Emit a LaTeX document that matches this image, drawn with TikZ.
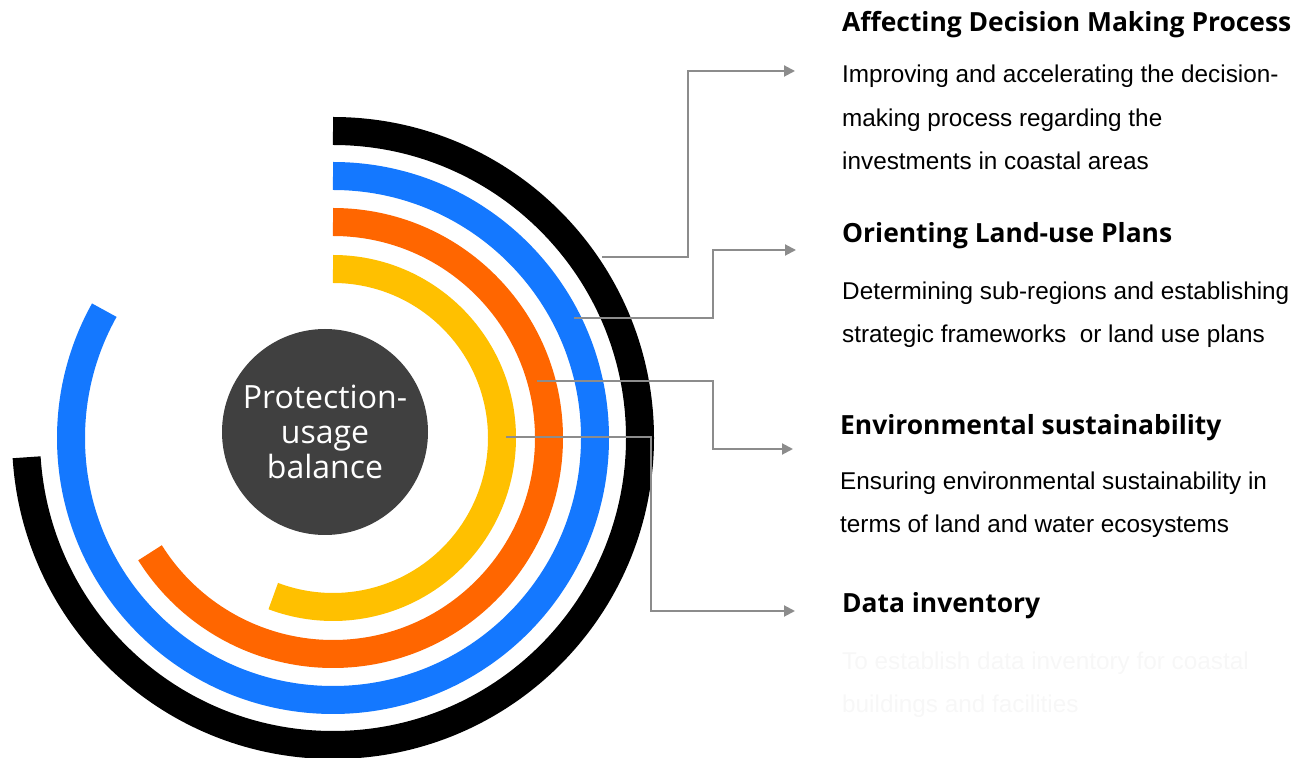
\documentclass[tikz,border=0pt]{standalone}
\usepackage{fontspec}
\setmainfont{Liberation Sans}
\newfontfamily\hubfont{Open Sans}
\usetikzlibrary{arrows.meta}

\definecolor{ringyellow}{HTML}{FFC000}
\definecolor{ringorange}{HTML}{FF6600}
\definecolor{ringblue}{HTML}{1478FF}
\definecolor{ringblack}{HTML}{000000}
\definecolor{hubgray}{HTML}{404040}
\definecolor{linkgray}{HTML}{8C8C8C}
\definecolor{fadedtext}{HTML}{F7F7F7}

\tikzset{
  ring/.style={line width=28pt},
  hub/.style={circle, fill=hubgray, minimum size=206pt, inner sep=0pt, text=white,
    align=center, font=\hubfont\fontsize{32}{35}\selectfont},
  head/.style={anchor=base west, inner sep=0pt, font=\hubfont\bfseries\fontsize{26.4}{32}\selectfont},
  % multi-line: base is the last line
  body/.style={anchor=base west, inner sep=0pt, align=left, font=\fontsize{24.3}{43.5}\selectfont},
  link/.style={draw=linkgray, line width=2pt, -{Triangle[length=11pt,width=11pt]}},
}

\begin{document}
\begin{tikzpicture}[x=1pt,y=1pt]

    \useasboundingbox (0,0) rectangle (1310,758);

    \coordinate (c) at (333,320);

    % rings, all start at the top and run clockwise
    \foreach \r/\e/\col in {169/-110.7/ringyellow, 216/-147.9/ringorange,
                            262/-209.2/ringblue, 307/-176.4/ringblack}
      \draw[ring, \col] ([shift={(90:\r pt)}]c) arc[start angle=90, end angle=\e, radius=\r pt];

    % centre
    \node[hub] (hub) at (325,326) {Protection-\\usage\\balance};

    % headings
    \node[head] (h1) at (842,726) {Affecting Decision Making Process};
    \node[head] (h2) at (842,515) {Orienting Land-use Plans};
    \node[head] (h3) at (840,323) {Environmental sustainability};
    \node[head] (h4) at (842,145) {Data inventory};

    % texts
    \node[body] (b1) at (842,588) {Improving and accelerating the decision-\\making process regarding the\\investments in coastal areas};
    \node[body] (b2) at (842,415) {Determining sub-regions and establishing\\strategic frameworks\ \ or land use plans};
    \node[body] (b3) at (840,225) {Ensuring environmental sustainability in\\terms of land and water ecosystems};
    \node[body, text=fadedtext] (b4) at (842,45) {To establish data inventory for coastal\\buildings and facilities};

    % links
    \coordinate (s1) at (602,501);
    \coordinate (t1) at (795,687);
    \coordinate (s2) at (574,440);
    \coordinate (t2) at (796,508);
    \coordinate (s3) at (537,377);
    \coordinate (t3) at (793,309);
    \coordinate (s4) at (506,321);
    \coordinate (t4) at (795,147);

    \draw[link] (s1) -- ++(86,0) |- (t1);
    \draw[link] (s2) -- ++(139,0) |- (t2);
    \draw[link] (s3) -- ++(176,0) |- (t3);
    \draw[link] (s4) -- ++(145,0) |- (t4);

\end{tikzpicture}
\end{document}
